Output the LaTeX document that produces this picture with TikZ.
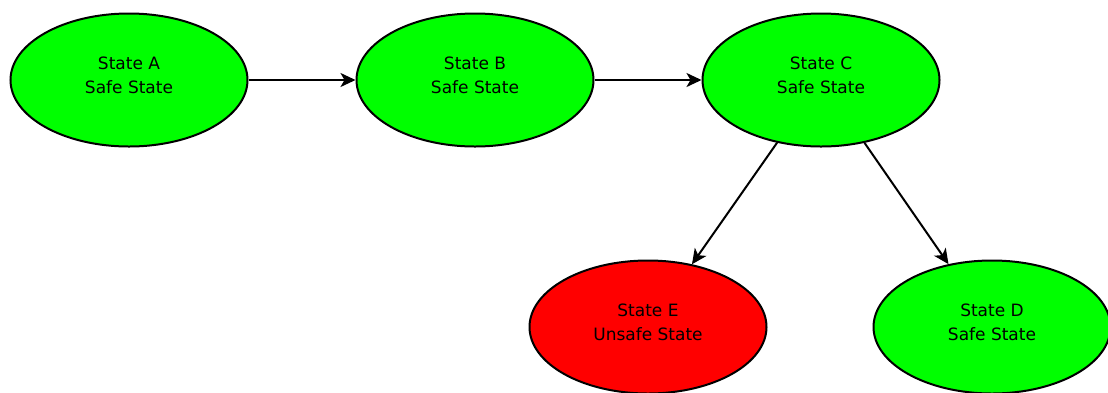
\documentclass[tikz,border=0pt]{standalone}
\usepackage{fontspec}
\setmainfont{DejaVu Sans}
\usetikzlibrary{arrows.meta,shapes.geometric}
\definecolor{safe}{RGB}{0,255,0}
\definecolor{unsafe}{RGB}{255,0,0}
\newcommand{\twolines}[2]{\raisebox{3pt}[\height][\depth]{\begin{tabular}{@{}c@{}}#1\\#2\end{tabular}}}
\tikzset{
  state/.style={ellipse,draw=black,line width=2pt,minimum width=237pt,minimum height=133pt,inner sep=0pt,font=\fontsize{17}{24}\selectfont},
  safestate/.style={state,fill=safe},
  unsafestate/.style={state,fill=unsafe},
  conn/.style={line width=2pt,-{Stealth[length=15pt,width=14pt,inset=4pt]}}
}
\begin{document}
\begin{tikzpicture}[x=1pt,y=-1pt]
\useasboundingbox (0,0) rectangle (1108,392);
\node[safestate] (A) at (129,80) {\twolines{State A}{Safe State}};
\node[safestate] (B) at (475,80) {\twolines{State B}{Safe State}};
\node[safestate] (C) at (821,80) {\twolines{State C}{Safe State}};
\node[unsafestate] (E) at (648,327) {\twolines{State E}{Unsafe State}};
\node[safestate] (D) at (992,327) {\twolines{State D}{Safe State}};
\draw[conn] (A) -- (B);
\draw[conn] (B) -- (C);
\draw[conn] (C) -- (E);
\draw[conn] (C) -- (D);
\end{tikzpicture}
\end{document}
